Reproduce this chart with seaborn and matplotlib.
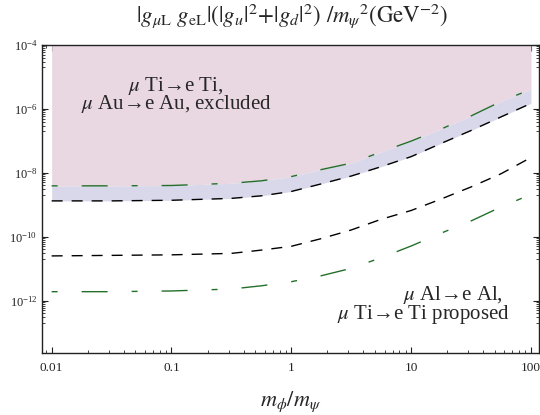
import numpy as np
import matplotlib
matplotlib.use("Agg")
import matplotlib.pyplot as plt
import matplotlib.ticker as mticker
import seaborn as sns

# mass ratio m_phi / m_psi
ratio = [0.01, 0.0316, 0.1, 0.316, 0.562, 1.0, 1.78, 3.16, 5.62, 10.0, 17.8, 31.6, 56.2, 100.0]

# Ti / Au present bounds (upper: green, lower: black)
ti_au_green = [3.9e-9, 3.9e-9, 4.0e-9, 4.7e-9, 5.6e-9, 7.6e-9, 1.26e-8, 2.0e-8, 4.5e-8,
               9.8e-8, 2.34e-7, 6.0e-7, 1.7e-6, 4.1e-6]
ti_au_black = [1.32e-9, 1.32e-9, 1.38e-9, 1.58e-9, 1.9e-9, 2.6e-9, 4.5e-9, 7.9e-9, 1.55e-8,
               3.2e-8, 8.3e-8, 2.1e-7, 5.6e-7, 1.48e-6]

# Al / Ti proposed sensitivity
prop_black = [2.5e-11, 2.6e-11, 2.7e-11, 3.0e-11, 3.8e-11, 5.0e-11, 8.7e-11, 1.62e-10, 3.5e-10,
              6.6e-10, 1.51e-9, 3.6e-9, 9.3e-9, 3.0e-8]
prop_green = [1.9e-12, 1.9e-12, 2.0e-12, 2.3e-12, 2.9e-12, 3.9e-12, 6.0e-12, 1.02e-11, 2.2e-11,
              5.1e-11, 1.29e-10, 3.1e-10, 8.5e-10, 2.1e-9]

x_ticks = [0.01, 0.1, 1, 10, 100]
x_ticklabels = ["0.01", "0.1", "1", "10", "100"]
y_ticks = [1e-12, 1e-10, 1e-8, 1e-6, 1e-4]

sns.set_style("ticks")
plt.rcParams["font.family"] = ["Liberation Serif", "DejaVu Serif"]
plt.rcParams["mathtext.fontset"] = "stix"

pink = "#e9d7e2"
lavender = "#d9d8ea"
green = "#23702a"

fig = plt.figure(figsize=(5.4, 4.15), dpi=100)
ax = fig.add_axes([0.0772, 0.1487, 0.9208, 0.7429])

ax.set_xscale("log")
ax.set_yscale("log")
ax.set_xlim(0.00826, 116.6)
ax.set_ylim(2.24e-14, 1e-4)

ax.fill_between(ratio, ti_au_green, 1e-4, color=pink, lw=0, zorder=1)
ax.fill_between(ratio, ti_au_black, ti_au_green, color=lavender, lw=0, zorder=1)

green_dash = (0, (4.3, 17.3, 18.7, 17.3))
black_dash = (0, (7.9, 6.5))
for vals, col, ls in [(ti_au_green, green, green_dash), (ti_au_black, "black", black_dash),
                      (prop_black, "black", black_dash), (prop_green, green, green_dash)]:
    sns.lineplot(x=ratio, y=vals, ax=ax, color=col, linestyle=ls, lw=1.0,
                 estimator=None, sort=False, zorder=3)

ax.set_xticks(x_ticks)
ax.set_xticklabels(x_ticklabels)
ax.xaxis.set_minor_locator(mticker.LogLocator(base=10, subs=np.arange(2, 10), numticks=20))
ax.xaxis.set_minor_formatter(mticker.NullFormatter())

ax.set_yticks(y_ticks)
ax.yaxis.set_major_formatter(mticker.LogFormatterSciNotation())
minor_y = [k * 10.0 ** e for e in (-13, -11, -9, -7, -5) for k in range(2, 10)]
ax.yaxis.set_minor_locator(mticker.FixedLocator(minor_y))
ax.yaxis.set_minor_formatter(mticker.NullFormatter())

ax.tick_params(which="both", direction="in", top=True, right=True, colors="#222222")
ax.tick_params(which="major", length=4, width=0.8)
ax.tick_params(which="minor", length=2, width=0.6)
ax.tick_params(axis="x", labelsize=9.5, pad=6)
ax.tick_params(axis="y", labelsize=9, pad=3)
for sp in ax.spines.values():
    sp.set_color("#222222")
    sp.set_linewidth(1.0)

ax.text(0.270, 0.838, "$\\mu$ Ti→e Ti,\n$\\mu$ Au→e Au, excluded", transform=ax.transAxes,
        ha="center", va="center", multialignment="center", linespacing=0.8, fontsize=15)
ax.text(0.9417, 0.157, "$\\mu$ Al→e Al,  \n$\\mu$ Ti→e Ti proposed", transform=ax.transAxes,
        ha="right", va="center", multialignment="right", linespacing=0.85, fontsize=15)

fig.text(0.541, 0.963,
         r"$|g_{\mu\mathrm{L}}\ g_{\mathrm{eL}}|(|g_u|^2\!+\!|g_d|^2)\ /m_\psi{}^2(\mathrm{GeV}^{-2})$",
         ha="center", va="center", fontsize=16.5)
fig.text(0.539, 0.031, r"$m_\phi/m_\psi$", ha="center", va="center", fontsize=16)

fig.savefig("out.png", dpi=100)
